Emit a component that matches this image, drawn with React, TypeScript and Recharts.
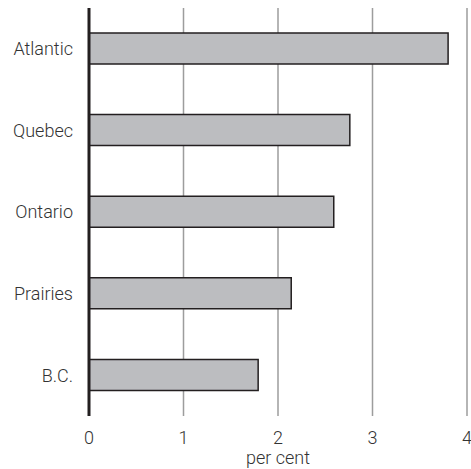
import { BarChart, Bar, XAxis, YAxis, CartesianGrid } from "recharts";

const regions = ["Atlantic", "Quebec", "Ontario", "Prairies", "B.C."];
const values = [3.8, 2.76, 2.59, 2.14, 1.79];
const xTicks = [0, 1, 2, 3, 4];

const data = regions.map((name, i) => ({ name, value: values[i] }));

const TEXT = "#333333";
const tickStyle = { fill: TEXT, fontSize: 18, fontWeight: 300 };

export default function App() {
  return (
    <div
      style={{
        position: "absolute",
        left: 0,
        top: 0,
        width: 471,
        height: 469,
        background: "#fff",
        fontFamily: "Roboto, 'Liberation Sans', Arial, sans-serif",
      }}
    >
      <BarChart
        layout="vertical"
        width={471}
        height={469}
        data={data}
        margin={{ top: 8, right: 4, bottom: 0, left: 0 }}
      >
        <CartesianGrid
          horizontal={false}
          stroke="#9d9d9d"
          strokeWidth={1.5}
          verticalValues={[1, 2, 3, 4]}
        />
        <XAxis
          type="number"
          domain={[0, 4]}
          ticks={xTicks}
          axisLine={false}
          tickLine={false}
          tickMargin={9}
          height={53}
          interval={0}
          tick={tickStyle}
          label={{
            value: "per cent",
            position: "insideBottom",
            offset: 5,
            ...tickStyle,
          }}
        />
        <YAxis
          type="category"
          dataKey="name"
          width={89}
          axisLine={{ stroke: "#231f20", strokeWidth: 3 }}
          tickLine={false}
          tickMargin={10}
          tick={tickStyle}
        />
        <Bar
          dataKey="value"
          fill="#bcbdc0"
          stroke="#231f20"
          strokeWidth={1.5}
          barSize={31}
          isAnimationActive={false}
        />
      </BarChart>
    </div>
  );
}
